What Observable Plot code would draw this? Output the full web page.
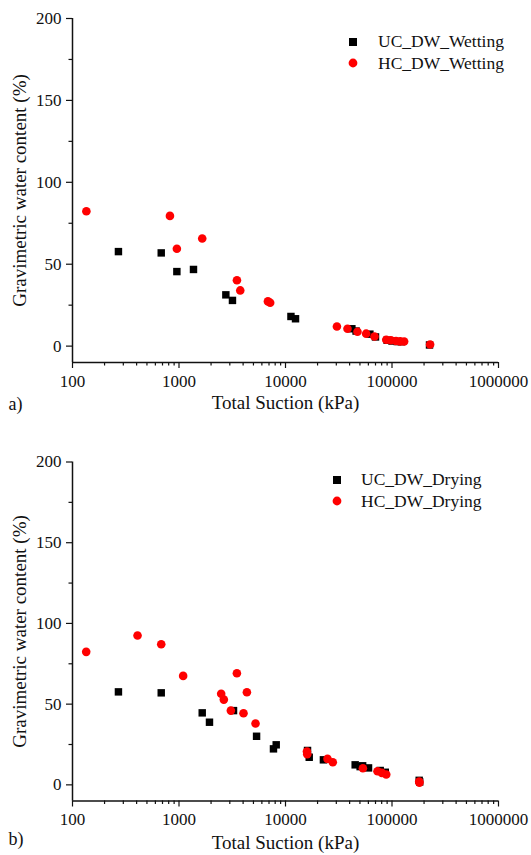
<!DOCTYPE html>
<html>
<head>
<meta charset="utf-8">
<script src="https://cdn.jsdelivr.net/npm/d3@7"></script>
<script src="https://cdn.jsdelivr.net/npm/@observablehq/plot@0.6"></script>
<style>
  body { margin: 0; background: #fff; font-family: "Liberation Serif", "Times New Roman", serif; }
  #wrap { position: relative; width: 531px; height: 855px; }
  .panel { position: absolute; left: 0; }
  .panel text { font-family: "Liberation Serif", "Times New Roman", serif; }
  .legend { position: absolute; font-size: 17.5px; color: #111; line-height: 1; }
  .legend .row { display: flex; align-items: center; height: 21.5px; }
  .legend svg { display: block; }
</style>
</head>
<body>
<div id="wrap"></div>
<script>
// ---- Data ----
const xMajorTicks = [100, 1000, 10000, 100000, 1000000];
const yMajorTicks = [0, 50, 100, 150, 200];
const yMinorTicks = [25, 75, 125, 175];

// Panel a) wetting
const ucWetSuction = [270, 681, 955, 1368, 2754, 3177, 11250, 12420, 42000, 46000, 62000, 70000, 90000, 100000, 112000, 122000, 225000];
const ucWetWater   = [57.7, 56.9, 45.5, 46.8, 31.3, 27.9, 18.1, 16.7, 10.6, 9.2, 7.3, 5.6, 3.6, 3.1, 2.8, 2.7, 0.7];
const hcWetSuction = [135, 822, 955, 1652, 3500, 3760, 6840, 7180, 30400, 38200, 47400, 57200, 68500, 88300, 97700, 109000, 119400, 130000, 228000];
const hcWetWater   = [82.3, 79.5, 59.4, 65.7, 40.2, 34.0, 27.3, 26.5, 12.0, 10.6, 8.8, 7.6, 5.9, 3.9, 3.6, 3.1, 2.9, 2.8, 1.0];

// Panel b) drying
const ucDrySuction = [270, 681, 1652, 1933, 3250, 5350, 7710, 8180, 16100, 16700, 22700, 45100, 50200, 53000, 60200, 77500, 86500, 180000, 182000];
const ucDryWater   = [57.6, 57.0, 44.6, 38.8, 46.0, 30.1, 22.3, 24.8, 21.3, 17.1, 15.5, 12.4, 11.3, 11.8, 10.5, 8.9, 7.8, 2.8, 1.8];
const hcDrySuction = [134.5, 408, 681, 1094, 2489, 2636, 3069, 3496, 4340, 4034, 5230, 15900, 16000, 24800, 27800, 53300, 73100, 80300, 88300, 180000, 181000];
const hcDryWater   = [82.4, 92.5, 87.1, 67.5, 56.4, 52.8, 46.0, 69.1, 57.4, 44.4, 38.0, 20.6, 19.0, 16.1, 14.0, 10.3, 8.4, 7.4, 6.4, 2.0, 1.4];

const xLabel = "Total Suction (kPa)";
const yLabel = "Gravimetric water content (%)";

const xMinorTicks = [];
for (let i = 0; i < xMajorTicks.length - 1; i++) {
  for (let k = 2; k <= 9; k++) xMinorTicks.push(xMajorTicks[i] * k);
}

const toRows = (xs, ys) => xs.map((x, i) => ({x, y: ys[i]}));
const FONT = "'Liberation Serif', 'Times New Roman', serif";

function panel({uc, hc, height, marginTop, marginBottom, tag, tagDy, titleDy}) {
  return Plot.plot({
    width: 531,
    height,
    marginLeft: 72,
    marginRight: 33,
    marginTop,
    marginBottom,
    style: `font-family: ${FONT}; font-size: 17px; color: #111; background: transparent; overflow: visible;`,
    x: {type: "log", domain: [100, 1000000]},
    y: {domain: [-10, 200]},
    marks: [
      Plot.ruleX([100], {stroke: "#111", strokeWidth: 1.5}),
      Plot.ruleY([-10], {stroke: "#111", strokeWidth: 1.5}),
      Plot.axisX({ticks: xMajorTicks, tickFormat: d => String(d), tickSize: 6, tickPadding: 6, label: null, fontSize: 17, fontFamily: FONT, stroke: "#111", strokeWidth: 1.2}),
      Plot.axisX({ticks: xMinorTicks, tickFormat: () => "", tickSize: 3.5, label: null, stroke: "#111", strokeWidth: 1.2}),
      Plot.axisY({ticks: yMajorTicks, tickFormat: d => String(d), tickSize: 6, tickPadding: 5, label: null, fontSize: 17, fontFamily: FONT, stroke: "#111", strokeWidth: 1.2}),
      Plot.axisY({ticks: yMinorTicks, tickFormat: () => "", tickSize: 3.5, label: null, stroke: "#111", strokeWidth: 1.2}),
      Plot.dot(uc, {x: "x", y: "y", symbol: "square", r: 4.2, fill: "#000", stroke: "none"}),
      Plot.dot(hc, {x: "x", y: "y", symbol: "circle", r: 4.3, fill: "#ff0000", stroke: "none"}),
      Plot.text([xLabel], {frameAnchor: "bottom", text: d => d, dy: titleDy, fontSize: 19, fontFamily: FONT, fill: "#111"}),
      Plot.text([tag], {frameAnchor: "bottom-left", text: d => d, textAnchor: "start", dx: -64, dy: tagDy, fontSize: 18, fontFamily: FONT, fill: "#111"}),
      Plot.text([yLabel], {frameAnchor: "left", text: d => d, textAnchor: "middle", rotate: -90, dx: -53, fontSize: 19, fontFamily: FONT, fill: "#111"})
    ]
  });
}

function legend(items, left, top) {
  const div = document.createElement("div");
  div.className = "legend";
  div.style.left = left + "px";
  div.style.top = top + "px";
  for (const it of items) {
    const row = document.createElement("div");
    row.className = "row";
    const shape = it.shape === "square"
      ? `<rect x="3" y="3" width="8" height="8" fill="#000"/>`
      : `<circle cx="7" cy="7" r="4.4" fill="#ff0000"/>`;
    row.innerHTML = `<svg width="14" height="14">${shape}</svg><span style="margin-left:${it.gap}px">${it.label}</span>`;
    div.appendChild(row);
  }
  return div;
}

const wrap = document.getElementById("wrap");

const a = panel({
  uc: toRows(ucWetSuction, ucWetWater),
  hc: toRows(hcWetSuction, hcWetWater),
  height: 428, marginTop: 18, marginBottom: 66,
  tag: "a)", tagDy: 47, titleDy: 46
});
a.classList.add("panel");
a.style.top = "0px";
wrap.appendChild(a);

const b = panel({
  uc: toRows(ucDrySuction, ucDryWater),
  hc: toRows(hcDrySuction, hcDryWater),
  height: 427, marginTop: 33.5, marginBottom: 54.5,
  tag: "b)", tagDy: 44, titleDy: 47.5
});
b.classList.add("panel");
b.style.top = "428px";
wrap.appendChild(b);

wrap.appendChild(legend([
  {shape: "square", label: "UC_DW_Wetting", gap: 18},
  {shape: "circle", label: "HC_DW_Wetting", gap: 18}
], 346, 31));

wrap.appendChild(legend([
  {shape: "square", label: "UC_DW_Drying", gap: 17},
  {shape: "circle", label: "HC_DW_Drying", gap: 17}
], 330, 469));
</script>
</body>
</html>
